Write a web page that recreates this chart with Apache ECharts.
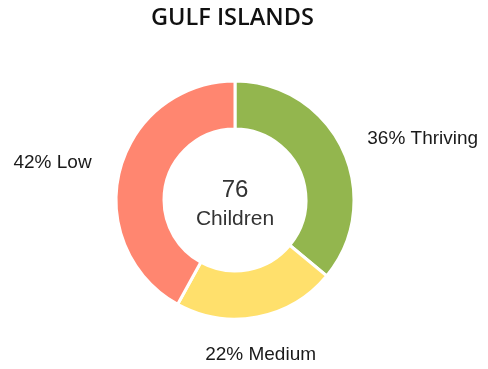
<!DOCTYPE html>
<html>
<head>
<meta charset="utf-8">
<script src="https://cdn.jsdelivr.net/npm/echarts@6/dist/echarts.min.js"></script>
<style>
  html, body { margin: 0; padding: 0; background: #ffffff; }
  #chart { width: 488px; height: 369px; }
</style>
</head>
<body>
<div id="chart"></div>
<script>
// Wellbeing breakdown for children in the Gulf Islands
const regionName = 'GULF ISLANDS';
const totalChildren = 76;
const totalLabel = 'Children';
const categories = ['Thriving', 'Medium', 'Low'];
const percentages = [36, 22, 42];
const sliceColors = ['#93B64E', '#FFE06C', '#FF8670'];
// distance of each label from the ring, along its slice's middle direction
const labelOffsets = [25, 39, 29];

const ringCenter = [235, 200];

const chart = echarts.init(document.getElementById('chart'), null, { renderer: 'canvas' });

const pieData = categories.map((name, i) => ({
  name: name,
  value: percentages[i],
  itemStyle: { color: sliceColors[i] },
  labelLine: { show: false, length: labelOffsets[i], length2: i === 0 ? 2 : 0 }
}));

chart.setOption({
  animation: false,
  title: {
    text: regionName,
    left: 146,
    top: 1,
    textStyle: { fontFamily: 'Open Sans', fontWeight: 600, fontSize: 23.5, color: '#111111', letterSpacing: 2 }
  },
  graphic: [
    {
      type: 'text',
      x: ringCenter[0],
      y: ringCenter[1] - 10,
      style: {
        text: String(totalChildren),
        align: 'center',
        verticalAlign: 'middle',
        fontFamily: 'Liberation Sans',
        fontSize: 24,
        fill: '#333333'
      }
    },
    {
      type: 'text',
      x: ringCenter[0],
      y: ringCenter[1] + 19,
      style: {
        text: totalLabel,
        align: 'center',
        verticalAlign: 'middle',
        fontFamily: 'Liberation Sans',
        fontSize: 21,
        fill: '#333333'
      }
    }
  ],
  series: [
    {
      type: 'pie',
      center: ringCenter,
      radius: [71, 119],
      startAngle: 90,
      clockwise: true,
      avoidLabelOverlap: false,
      itemStyle: { borderColor: '#ffffff', borderWidth: 3 },
      label: {
        show: true,
        position: 'outside',
        distanceToLabelLine: 0,
        fontFamily: 'Liberation Sans',
        fontSize: 19,
        color: '#1a1a1a',
        formatter: p => p.value + '% ' + p.name
      },
      emphasis: { disabled: true },
      labelLayout: p => (p.dataIndex === 1 ? { align: 'center', dx: -4 } : {}),
      data: pieData
    }
  ]
});
</script>
</body>
</html>
